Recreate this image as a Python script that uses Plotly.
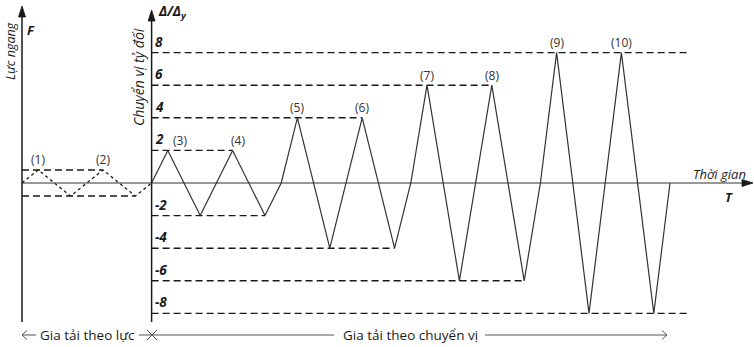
import plotly.graph_objects as go

# Loading protocol: force-controlled cycles, then displacement-controlled cycles
force_t = [0, 1, 3, 5, 7, 8]
force_v = [0, 0.8, -0.8, 0.8, -0.8, 0]

disp_t = [8, 9, 11, 13, 15, 16, 17, 19, 21, 23, 24, 25, 27, 29, 31, 32, 33, 35, 37, 39, 40]
disp_v = [0, 2, -2, 2, -2, 0, 4, -4, 4, -4, 0, 6, -6, 6, -6, 0, 8, -8, 8, -8, 0]

# Reference levels (value, start time, end time)
level_v = [0.8, -0.8, 2, -2, 4, -4, 6, -6, 8, -8]
level_t0 = [0, 0, 8, 8, 8, 8, 8, 8, 8, 8]
level_t1 = [5, 7, 13, 15, 21, 23, 29, 31, 41.2, 41.2]

tick_vals = [8, 6, 4, 2, -2, -4, -6, -8]
tick_text = ["8", "6", "4", "2", "-2", "-4", "-6", "-8"]

peak_labels = ["(1)", "(2)", "(3)", "(4)", "(5)", "(6)", "(7)", "(8)", "(9)", "(10)"]
peak_t = [1, 5, 9, 13, 17, 21, 25, 29, 33, 37]
peak_v = [0.8, 0.8, 2, 2, 4, 4, 6, 6, 8, 8]
peak_dx = [0, 0, 12, 5, 0, 0, 0, 0, 0, 0]

W, H = 754, 347
PX_T = 16.2   # pixels per time step
PX_V = 16.3   # pixels per unit of relative displacement
X0, Y0 = 22, 183  # pixel position of the origin

def tx(px):
    return (px - X0) / PX_T

def vy(py):
    return (Y0 - py) / PX_V

FONT = "Open Sans"
INK = "#1a1a1a"

fig = go.Figure()

# dashed reference levels
lx, ly = [], []
for v, a, b in zip(level_v, level_t0, level_t1):
    lx += [a, b, None]
    ly += [v, v, None]
fig.add_trace(go.Scatter(x=lx, y=ly, mode="lines",
                         line=dict(color=INK, width=1.4, dash="7px,4px"),
                         hoverinfo="skip"))

# force-controlled cycles (dotted)
fig.add_trace(go.Scatter(x=force_t, y=force_v, mode="lines",
                         line=dict(color=INK, width=1.3, dash="dot"),
                         hoverinfo="skip"))

# displacement-controlled cycles
fig.add_trace(go.Scatter(x=disp_t, y=disp_v, mode="lines",
                         line=dict(color="#333333", width=1.2),
                         hoverinfo="skip"))

shapes = []
# axes
shapes.append(dict(type="line", x0=0, x1=0, y0=vy(322), y1=vy(14), line=dict(color=INK, width=1.5)))
shapes.append(dict(type="line", x0=8, x1=8, y0=vy(322), y1=vy(18), line=dict(color=INK, width=1.5)))
shapes.append(dict(type="line", x0=0, x1=tx(745), y0=0, y1=0, line=dict(color="#333333", width=1.2)))

def head(t, v, path):
    return dict(type="path", xref="x", yref="y", xsizemode="pixel", ysizemode="pixel",
                xanchor=t, yanchor=v, path=path, fillcolor=INK,
                line=dict(color=INK, width=0.8))

# arrowheads of the axes
shapes.append(head(0, vy(6), "M0,0 L-3.5,-11 L3.5,-11 Z"))
shapes.append(head(8, vy(10), "M0,0 L-3.5,-11 L3.5,-11 Z"))
shapes.append(head(tx(753), 0, "M0,0 L-11,3.5 L-11,-3.5 Z"))

# bottom bracket arrows
yb = vy(335)
shapes.append(dict(type="line", x0=tx(22), x1=tx(36), y0=yb, y1=yb, line=dict(color="#555555", width=1)))
shapes.append(dict(type="line", x0=tx(139), x1=tx(334), y0=yb, y1=yb, line=dict(color="#555555", width=1)))
shapes.append(dict(type="line", x0=tx(485), x1=tx(667), y0=yb, y1=yb, line=dict(color="#555555", width=1)))
open_head = dict(type="path", xref="x", yref="y", xsizemode="pixel", ysizemode="pixel",
                 line=dict(color="#555555", width=1))
shapes.append(dict(open_head, xanchor=tx(22), yanchor=yb, path="M5,4.5 L0,0 L5,-4.5"))
shapes.append(dict(open_head, xanchor=tx(667), yanchor=yb, path="M-5,4.5 L0,0 L-5,-4.5"))
shapes.append(dict(open_head, xanchor=tx(152), yanchor=yb, path="M-5,5 L5,-5 M-5,-5 L5,5"))

annotations = []
for lab, t, v, dx in zip(peak_labels, peak_t, peak_v, peak_dx):
    annotations.append(dict(x=t, y=v, text=lab, showarrow=False, xshift=dx, yshift=10,
                            font=dict(family=FONT, size=12, color="#333333")))
for val, txt in zip(tick_vals, tick_text):
    annotations.append(dict(x=tx(153), y=val, text="<b><i>%s</i></b>" % txt, showarrow=False,
                            xanchor="left", yanchor="bottom", yshift=0,
                            font=dict(family=FONT, size=13.5, color=INK)))

annotations += [
    dict(x=tx(10), y=vy(51), text="<i>Lực ngang</i>", textangle=-90, showarrow=False,
         font=dict(family=FONT, size=12.5, color=INK)),
    dict(x=tx(31), y=vy(30), text="<b><i>F</i></b>", showarrow=False,
         font=dict(family=FONT, size=13, color=INK)),
    dict(x=tx(156), y=vy(12), text="<b><i>Δ/Δ<sub>y</sub></i></b>", showarrow=False, xanchor="left",
         font=dict(family=FONT, size=13.5, color=INK)),
    dict(x=tx(138), y=vy(77), text="<i>Chuyển vị tỷ đối</i>", textangle=-90, showarrow=False,
         font=dict(family=FONT, size=14, color=INK)),
    dict(x=tx(719), y=vy(174), text="<i>Thời gian</i>", showarrow=False,
         font=dict(family=FONT, size=13, color=INK)),
    dict(x=tx(729), y=vy(197), text="<b><i>T</i></b>", showarrow=False,
         font=dict(family=FONT, size=13, color=INK)),
    dict(x=tx(87), y=yb, text="Gia tải theo lực", showarrow=False,
         font=dict(family=FONT, size=13.5, color=INK)),
    dict(x=tx(410), y=yb, text="Gia tải theo chuyển vị", showarrow=False,
         font=dict(family=FONT, size=13.5, color=INK)),
]

fig.update_layout(
    width=W, height=H,
    margin=dict(l=0, r=0, t=0, b=0),
    paper_bgcolor="white", plot_bgcolor="white",
    showlegend=False,
    xaxis=dict(range=[tx(0), tx(W)], visible=False, fixedrange=True),
    yaxis=dict(range=[vy(H), vy(0)], visible=False, fixedrange=True),
    shapes=shapes,
    annotations=annotations,
)

fig.write_html("out.html")
